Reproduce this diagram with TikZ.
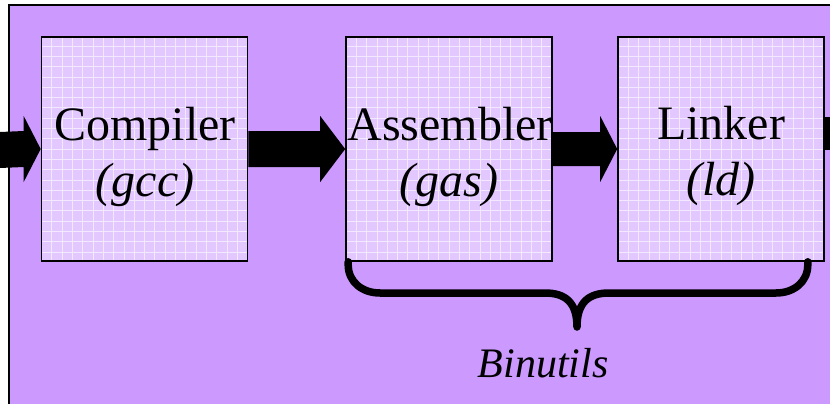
\documentclass[tikz,border=0pt]{standalone}
\usepackage{fontspec}
\setmainfont{Liberation Serif}
\usetikzlibrary{calc}
\definecolor{bgpurple}{RGB}{204,153,255}
\definecolor{boxfill}{RGB}{226,200,255}
\tikzset{
  stagebox/.style={draw=black, line width=1.6pt, fill=boxfill, inner sep=0pt,
    minimum width=206pt, minimum height=224pt,
    path picture={\draw[white, line width=0.7pt, opacity=0.6]
      (path picture bounding box.south west) grid[step=10.3pt] (path picture bounding box.north east);}},
  bigtxt/.style={font=\fontsize{48}{56}\selectfont, inner sep=0pt, anchor=base},
  ittxt/.style={font=\fontsize{48}{56}\selectfont\itshape, inner sep=0pt, anchor=base},
  flowarrow/.style={fill=black, draw=none},
  bracepath/.style={draw=black, line width=7.5pt, line cap=round, line join=round}
}
\begin{document}
\begin{tikzpicture}[x=1pt, y=-1pt]
\useasboundingbox (0,0) rectangle (830,404);
% background frame
\fill[bgpurple] (9,5) rectangle (830,404);
\draw[black, line width=2pt] (9,404) -- (9,5) -- (830,5);
% boxes
\node[stagebox] (c) at (144.5,149) {};
\node[stagebox] (a) at (449,149) {};
\node[stagebox] (l) at (721,149) {};
% texts
\node[bigtxt] (ct) at (145,140) {Compiler};
\node[ittxt] (cs) at (145,196) {(gcc)};
\node[bigtxt] (at) at (450,140) {Assembler};
\node[ittxt] (as) at (449,196) {(gas)};
\node[bigtxt] (lt) at (721,139) {Linker};
\node[ittxt] (ls) at (721,195) {(ld)};
\node[font=\fontsize{42}{50}\selectfont\itshape, inner sep=0pt, anchor=base] (bt) at (543,377) {Binutils};
% incoming arrow
\coordinate (src) at (0,150);
\fill[flowarrow] ($(src)+(0,-18)$) -- ($(c.west)+(-17,-18)$) -- ($(c.west)+(-17,-33)$) -- (c.west)
  -- ($(c.west)+(-17,33)$) -- ($(c.west)+(-17,18)$) -- ($(src)+(0,18)$) -- cycle;
% compiler -> assembler
\fill[flowarrow] ($(c.east)+(0,-18)$) -- ($(a.west)+(-25,-18)$) -- ($(a.west)+(-25,-33)$) -- (a.west)
  -- ($(a.west)+(-25,33)$) -- ($(a.west)+(-25,18)$) -- ($(c.east)+(0,18)$) -- cycle;
% assembler -> linker
\fill[flowarrow] ($(a.east)+(0,-17)$) -- ($(l.west)+(-17,-17)$) -- ($(l.west)+(-17,-33)$) -- (l.west)
  -- ($(l.west)+(-17,33)$) -- ($(l.west)+(-17,17)$) -- ($(a.east)+(0,17)$) -- cycle;
% outgoing arrow
\coordinate (dst) at (830,150);
\fill[flowarrow] ($(l.east)+(0,-32)$) rectangle (dst);
% brace
\coordinate (bl) at ($(a.south west)+(3,0)$);
\coordinate (br) at ($(l.south east)+(-17,0)$);
\coordinate (tip) at (577,327);
\draw[bracepath] (bl) -- ++(0,3) .. controls ++(0,17) and (362,293) .. (380,293)
  -- (545,293) .. controls (566,293) and (577,303) .. (tip)
  .. controls (577,303) and (588,293) .. (609,293) -- (776,293)
  .. controls (794,293) and ($(br)+(0,20)$) .. ($(br)+(0,3)$) -- (br);
\end{tikzpicture}
\end{document}
